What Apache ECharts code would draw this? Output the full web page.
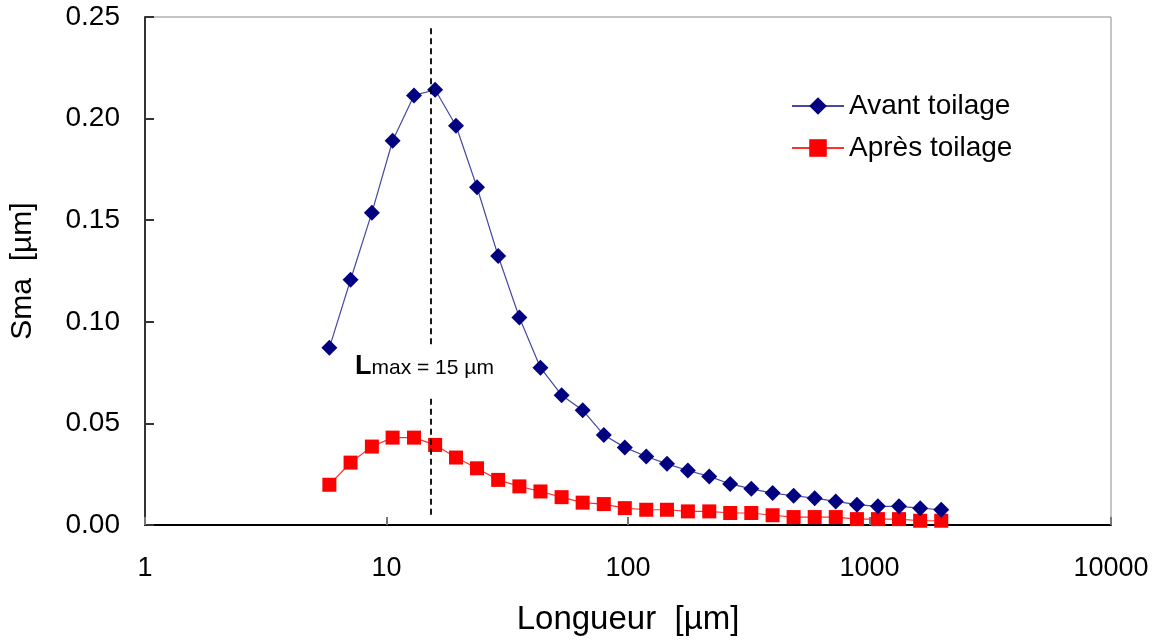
<!DOCTYPE html>
<html>
<head>
<meta charset="utf-8">
<title>Sma vs Longueur</title>
<script src="https://cdn.jsdelivr.net/npm/echarts@6/dist/echarts.min.js"></script>
<style>
  html, body { margin: 0; padding: 0; background: #fff; }
  #chart { width: 1163px; height: 641px; }
</style>
</head>
<body>
<div id="chart"></div>
<script>
const longueurs = [5.8, 7.1, 8.7, 10.6, 13.0, 15.9, 19.4, 23.7, 29.0, 35.5,
  43.4, 53.1, 64.9, 79.4, 97, 119, 145, 177, 217, 265,
  324, 397, 485, 593, 725, 887, 1084, 1325, 1621, 1982]

const avantToilage = [0.0872, 0.1207, 0.1537, 0.1891, 0.2114, 0.2142, 0.1965, 0.1662, 0.1324, 0.1021,
  0.0774, 0.0639, 0.0565, 0.0443, 0.0382, 0.0337, 0.0301, 0.0268, 0.0239, 0.0202,
  0.0178, 0.0157, 0.0144, 0.0132, 0.0116, 0.0100, 0.0092, 0.0092, 0.0083, 0.0075]

const apresToilage = [0.0198, 0.0307, 0.0386, 0.0430, 0.0430, 0.0394, 0.0332, 0.0279, 0.0222, 0.0190,
  0.0165, 0.0137, 0.0110, 0.0103, 0.0083, 0.0075, 0.0075, 0.0067, 0.0067, 0.0059,
  0.0059, 0.0048, 0.0039, 0.0039, 0.0039, 0.0029, 0.0029, 0.0029, 0.0021, 0.0021]

const lmax = 15.2

const font = "'Liberation Sans', Arial, sans-serif"
const chart = echarts.init(document.getElementById('chart'))

const toPairs = (ys) => ys.map((y, i) => [longueurs[i], y])

const option = {
  animation: false,
  textStyle: { fontFamily: font, color: '#000' },
  grid: {
    left: 143, top: 17, right: 52, bottom: 114,
    show: true, borderColor: '#8a8a8a', borderWidth: 1
  },
  legend: {
    orient: 'vertical',
    left: 786,
    top: 87,
    itemWidth: 52,
    itemHeight: 22,
    itemGap: 14,
    textStyle: { fontFamily: font, fontSize: 28, color: '#000' },
    data: ['Avant toilage', 'Après toilage']
  },
  xAxis: {
    type: 'log',
    logBase: 10,
    min: 1,
    max: 10000,
    name: 'Longueur  [µm]',
    nameLocation: 'middle',
    nameGap: 78,
    nameTextStyle: { fontFamily: font, fontSize: 33, color: '#000' },
    axisLine: { show: true, lineStyle: { color: '#000', width: 2 } },
    axisTick: { show: true, inside: true, length: 8, lineStyle: { color: '#777', width: 2 } },
    minorTick: { show: false },
    splitLine: { show: false },
    axisLabel: {
      fontFamily: font, fontSize: 27, color: '#000', margin: 30,
      formatter: (v) => String(v)
    }
  },
  yAxis: {
    type: 'value',
    min: 0,
    max: 0.25,
    interval: 0.05,
    name: 'Sma  [µm]',
    nameLocation: 'middle',
    nameGap: 107,
    nameTextStyle: { fontFamily: font, fontSize: 30, color: '#000' },
    axisLine: { show: true, lineStyle: { color: '#333', width: 2 } },
    axisTick: { show: true, inside: true, length: 9, lineStyle: { color: '#333', width: 2 } },
    splitLine: { show: false },
    axisLabel: {
      fontFamily: font, fontSize: 28, color: '#000', margin: 25,
      formatter: (v) => v.toFixed(2)
    }
  },
  series: [
    {
      name: 'Avant toilage',
      type: 'line',
      data: toPairs(avantToilage),
      symbol: 'diamond',
      symbolSize: 16,
      itemStyle: { color: '#000080' },
      lineStyle: { color: '#4747a6', width: 1.2 },
      z: 3,
      markLine: {
        silent: true,
        symbol: 'none',
        label: { show: false },
        lineStyle: { color: '#000', type: [6, 4], width: 1.8 },
        data: [
          [{ coord: [lmax, 0.005] }, { coord: [lmax, 0.063] }],
          [{ coord: [lmax, 0.089] }, { coord: [lmax, 0.246] }]
        ]
      }
    },
    {
      name: 'Après toilage',
      type: 'line',
      data: toPairs(apresToilage),
      symbol: 'rect',
      symbolSize: 14,
      itemStyle: { color: '#ff0000' },
      lineStyle: { color: '#ff3030', width: 1.2 },
      z: 2
    }
  ],
  graphic: [
    {
      type: 'text',
      left: 355,
      top: 353,
      style: {
        text: '{b|L}{s|max = 15 µm}',
        rich: {
          b: { fontFamily: font, fontSize: 27, fontWeight: 'bold', fill: '#000', verticalAlign: 'bottom' },
          s: { fontFamily: font, fontSize: 21, fill: '#000', verticalAlign: 'bottom', padding: [0, 0, 1, 0] }
        }
      }
    }
  ]
}

chart.setOption(option)
</script>
</body>
</html>
